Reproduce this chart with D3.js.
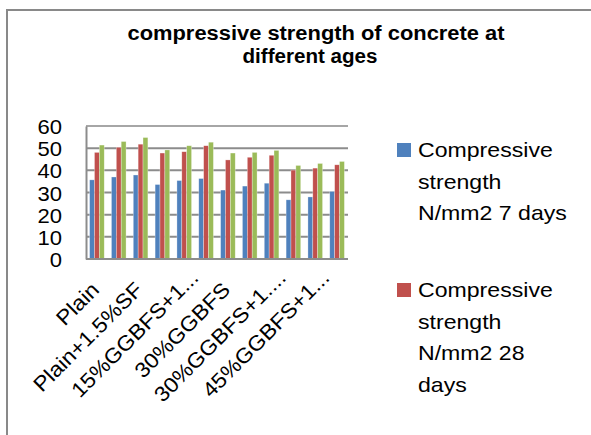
<!DOCTYPE html>
<html>
<head>
<meta charset="utf-8">
<script src="https://cdn.jsdelivr.net/npm/d3@7"></script>
<style>
  html, body { margin: 0; padding: 0; background: #fff; }
  svg { display: block; }
  text { font-family: "Liberation Sans", Arial, sans-serif; fill: #000; }
</style>
</head>
<body>
<svg id="chart" width="591" height="435"></svg>
<script>
// ---- data ----
const categories = [
  "Plain", "Plain+1%SF", "Plain+1.5%SF",
  "15%GGBFS", "15%GGBFS+1%SF", "15%GGBFS+1.5%SF",
  "30%GGBFS", "30%GGBFS+1%SF", "30%GGBFS+1.5%SF",
  "45%GGBFS", "45%GGBFS+1%SF", "45%GGBFS+1.5%SF"
];
const tickLabels = [
  "Plain", "", "Plain+1.5%SF", "", "15%GGBFS+1...", "",
  "30%GGBFS", "", "30%GGBFS+1....", "", "45%GGBFS+1...", ""
];
const seriesNames = [
  "Compressive strength N/mm2 7 days",
  "Compressive strength N/mm2 28 days",
  "Compressive strength N/mm2 56 days"
];
const days7  = [35.7, 37.0, 37.9, 33.6, 35.4, 36.3, 31.1, 32.9, 34.2, 26.7, 28.0, 30.5];
const days28 = [48.1, 50.4, 51.8, 47.8, 48.4, 51.1, 44.7, 45.9, 46.8, 40.1, 41.0, 42.5];
const days56 = [51.4, 53.0, 54.8, 49.2, 51.1, 52.7, 47.8, 48.1, 49.0, 42.2, 43.1, 44.0];
const yTicks = [0, 10, 20, 30, 40, 50, 60];
const titleLines = ["compressive strength of concrete at", "different ages"];
const legendLines = [
  ["Compressive", "strength", "N/mm2 7 days"],
  ["Compressive", "strength", "N/mm2 28", "days"]
];
const colors = ["#4f81bd", "#c0504d", "#9bbb59"];

// ---- build ----
const svg = d3.select("#chart");
const series = [days7, days28, days56];
function stretch(sel, f) {
  sel.each(function () {
    const w = this.getComputedTextLength();
    if (w > 0) {
      d3.select(this).attr("textLength", w * f).attr("lengthAdjust", "spacingAndGlyphs");
    }
  });
}

// outer border
svg.append("path")
  .attr("d", "M7,436 L7,10 L592,10")
  .attr("fill", "none")
  .attr("stroke", "#898989")
  .attr("stroke-width", 2);

// title
const titleX = [316, 310], titleY = [40, 63], titleW = [377, 135];
svg.selectAll("text.title").data(titleLines).join("text")
  .attr("class", "title")
  .attr("x", (d, i) => titleX[i])
  .attr("y", (d, i) => titleY[i])
  .attr("text-anchor", "middle")
  .attr("font-size", 20)
  .attr("font-weight", "bold")
  .attr("textLength", (d, i) => titleW[i])
  .attr("lengthAdjust", "spacingAndGlyphs")
  .text(d => d);

// scales
const x0 = d3.scaleBand().domain(d3.range(categories.length)).range([86, 348])
  .paddingInner(0.33).paddingOuter(0.165);
const x1 = d3.scaleBand().domain(d3.range(series.length)).range([0, x0.bandwidth()]);
const y = d3.scaleLinear().domain([0, 60]).range([259, 126]);

// gridlines
svg.append("g").selectAll("line").data(yTicks.filter(t => t > 0)).join("line")
  .attr("x1", 86).attr("x2", 348)
  .attr("y1", d => y(d)).attr("y2", d => y(d))
  .attr("stroke", (d) => d === 60 ? "#a6a6a6" : "#8c8c8c")
  .attr("stroke-width", 2);

// bars
const gBars = svg.append("g");
series.forEach((vals, si) => {
  gBars.append("g").selectAll("rect").data(vals).join("rect")
    .attr("x", (d, i) => x0(i) + x1(si))
    .attr("width", x1.bandwidth())
    .attr("y", d => y(d))
    .attr("height", d => y(0) - y(d))
    .attr("fill", colors[si])
    .attr("stroke", "#ffffff")
    .attr("stroke-opacity", 0.5)
    .attr("stroke-width", 0.6);
});

// y axis
const yAxis = svg.append("g")
  .attr("transform", "translate(86,0)")
  .call(d3.axisLeft(y).tickValues(yTicks).tickSize(0).tickPadding(24).tickFormat(d3.format("d")));
yAxis.select(".domain").attr("stroke", "#8c8c8c").attr("stroke-width", 2);
yAxis.selectAll("text")
  .attr("font-size", 21)
  .attr("font-family", "Liberation Sans, Arial, sans-serif")
  .attr("fill", "#000")
  .attr("dy", "0.36em");
stretch(yAxis.selectAll("text"), 1.05);

// x axis
const xAxis = svg.append("g")
  .attr("transform", "translate(0,259)")
  .call(d3.axisBottom(x0).tickSize(0).tickFormat(i => tickLabels[i]));
xAxis.select(".domain").attr("stroke", "#8c8c8c").attr("stroke-width", 2)
  .attr("d", "M86,0H348");
xAxis.selectAll("text")
  .attr("font-size", 21)
  .attr("font-family", "Liberation Sans, Arial, sans-serif")
  .attr("fill", "#000")
  .attr("text-anchor", "end")
  .attr("dy", 0)
  .attr("y", 0)
  .attr("dx", i => tickLabels[i].endsWith("...") ? 17 : 0)
  .attr("transform", "translate(3.5,32) rotate(-45)");
stretch(xAxis.selectAll("text"), 1.08);

// legend
const legendY = [157, 297];
const lg = svg.append("g");
legendLines.forEach((lines, li) => {
  lg.append("rect")
    .attr("x", 397).attr("y", legendY[li] - 14)
    .attr("width", 14).attr("height", 14)
    .attr("fill", colors[li]);
  const t = lg.append("g").selectAll("text").data(lines).join("text")
    .attr("x", 418)
    .attr("y", (d, i) => legendY[li] + i * 31.5)
    .attr("font-size", 21)
    .text(d => d);
  stretch(t, 1.1);
});
</script>
</body>
</html>
